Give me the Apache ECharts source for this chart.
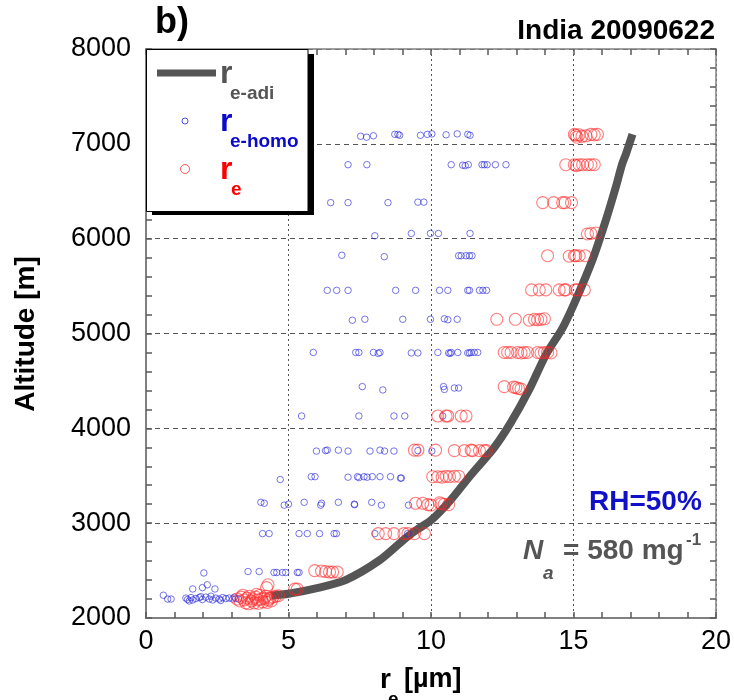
<!DOCTYPE html>
<html>
<head>
<meta charset="utf-8">
<script src="https://cdn.jsdelivr.net/npm/echarts@6/dist/echarts.min.js"></script>
<style>
  html, body { margin: 0; padding: 0; background: #fff; }
  #chart { width: 734px; height: 700px; }
</style>
</head>
<body>
<div id="chart"></div>
<script>
// adiabatic effective radius profile [re (um), altitude (m)]
var adiCurve = [
  [4.4, 2235], [5.0, 2255], [6.0, 2315], [7.0, 2400], [8.2, 2610], [9.1, 2840],
  [9.5, 2930], [10.0, 3030], [10.65, 3230], [11.35, 3490], [12.2, 3790], [12.8, 4060],
  [13.45, 4410], [14.03, 4775], [14.62, 5060], [15.09, 5360], [15.67, 5780],
  [16.14, 6200], [16.5, 6560], [16.7, 6780], [16.85, 6900], [17.07, 7100]
];

// homogeneous mixing re
var reHomo = [
  [7.53, 7080], [7.74, 7070], [7.98, 7085], [8.73, 7100], [8.84, 7100], [8.90, 7090],
  [9.63, 7090], [9.87, 7100], [10.03, 7105], [10.53, 7095], [10.92, 7105], [11.29, 7100], [11.37, 7090],
  [7.09, 6780], [7.75, 6780], [10.71, 6780], [11.11, 6775], [11.20, 6770], [11.31, 6780],
  [11.79, 6780], [11.87, 6780], [11.97, 6780], [12.26, 6780], [12.63, 6780],
  [6.48, 6380], [7.09, 6380], [8.49, 6380], [9.54, 6385], [9.75, 6385],
  [8.03, 6030], [9.31, 6055], [9.98, 6055], [10.26, 6055], [11.37, 6055],
  [6.87, 5825], [8.36, 5810], [10.97, 5820], [11.06, 5820], [11.23, 5820], [11.35, 5820], [11.44, 5820],
  [6.36, 5455], [6.69, 5455], [7.09, 5455], [8.76, 5455], [9.46, 5455], [10.30, 5455], [10.59, 5455],
  [11.29, 5455], [11.35, 5455], [11.70, 5455], [11.82, 5455], [11.95, 5455],
  [7.24, 5140], [7.68, 5150], [9.01, 5150], [9.98, 5150], [10.47, 5155], [10.59, 5145], [10.92, 5150],
  [5.87, 4800], [7.36, 4800], [7.47, 4800], [7.98, 4800], [8.15, 4790], [8.21, 4800], [9.31, 4795],
  [9.54, 4795], [10.24, 4800], [10.62, 4795], [10.67, 4790], [10.71, 4800], [10.94, 4800],
  [11.29, 4795], [11.35, 4795], [11.41, 4800], [11.52, 4800], [11.64, 4800],
  [7.59, 4440], [8.31, 4405], [10.44, 4440], [10.47, 4410], [10.82, 4425], [10.97, 4425],
  [5.46, 4130], [7.47, 4130], [8.70, 4130], [9.08, 4130], [10.41, 4130],
  [5.98, 3760], [6.30, 3765], [6.36, 3770], [6.75, 3770], [7.09, 3760], [7.86, 3760],
  [8.21, 3770], [8.37, 3760], [8.70, 3760], [9.54, 3765], [10.03, 3760],
  [4.71, 3460], [5.80, 3490], [5.93, 3490], [7.09, 3485], [7.42, 3490], [7.47, 3480], [7.65, 3490],
  [7.76, 3485], [7.94, 3490], [8.21, 3490], [8.58, 3490], [8.93, 3475], [8.96, 3475],
  [4.03, 3220], [4.15, 3210], [4.85, 3190], [5.00, 3200], [5.55, 3220], [6.16, 3210], [6.13, 3190],
  [6.75, 3220], [7.31, 3200], [7.32, 3195], [7.92, 3220], [8.26, 3190], [9.21, 3190],
  [4.09, 2890], [4.32, 2890], [5.37, 2890], [5.66, 2890], [6.09, 2890], [6.60, 2890], [6.68, 2890],
  [8.03, 2890], [9.18, 2890],
  [3.58, 2490], [3.97, 2490], [4.49, 2480], [4.59, 2480], [4.79, 2480], [4.90, 2480], [5.31, 2480], [5.37, 2480],
  [2.03, 2475], [2.15, 2350], [1.98, 2320], [1.64, 2306], [2.42, 2306],
  [0.61, 2240], [0.76, 2200], [0.88, 2200], [1.40, 2210], [1.46, 2195], [1.58, 2215], [1.64, 2190],
  [1.75, 2205], [1.87, 2215], [1.98, 2195], [2.10, 2220], [2.22, 2200], [2.34, 2190], [2.45, 2210],
  [2.57, 2200], [2.69, 2215], [2.80, 2205], [2.92, 2210], [3.04, 2200], [3.15, 2205], [3.25, 2200],
  [1.52, 2180], [1.92, 2225], [2.28, 2230], [2.62, 2185], [3.10, 2220]
];

// observed re
var reObs = [
  [15.03, 7100], [15.08, 7090], [15.12, 7070], [15.20, 7095], [15.30, 7080], [15.44, 7085],
  [15.61, 7100], [15.73, 7095], [15.84, 7100],
  [14.73, 6780], [15.03, 6780], [15.20, 6780], [15.10, 6770], [15.32, 6780], [15.49, 6780], [15.61, 6780], [15.73, 6780],
  [13.92, 6380], [14.30, 6380], [14.62, 6380], [14.70, 6380], [14.93, 6380],
  [15.49, 6050], [15.61, 6055], [15.79, 6060],
  [14.09, 5820], [14.85, 5815], [15.03, 5820], [15.08, 5820], [15.20, 5820], [15.41, 5820],
  [13.53, 5460], [13.80, 5460], [14.03, 5460], [14.50, 5460], [14.68, 5460], [14.73, 5460],
  [15.06, 5460], [15.14, 5460], [15.38, 5460],
  [12.31, 5150], [12.96, 5150], [13.45, 5140], [13.63, 5150], [13.74, 5145], [13.86, 5150], [13.98, 5155],
  [12.57, 4800], [12.69, 4800], [12.81, 4800], [13.04, 4800], [13.16, 4795], [13.27, 4800],
  [13.39, 4800], [13.74, 4800], [13.86, 4795], [13.98, 4800], [14.09, 4800], [14.21, 4795],
  [12.57, 4440], [12.90, 4435], [12.98, 4430], [13.07, 4420], [13.16, 4415],
  [10.24, 4130], [10.53, 4130], [10.59, 4130], [11.06, 4130], [11.23, 4130],
  [9.42, 3770], [9.54, 3770], [10.16, 3770], [10.82, 3765], [11.17, 3765], [11.41, 3770],
  [11.46, 3765], [11.70, 3765], [11.87, 3765], [11.95, 3765],
  [10.06, 3490], [10.24, 3490], [10.39, 3485], [10.53, 3495], [10.65, 3490], [10.82, 3495], [10.97, 3495],
  [9.46, 3210], [9.71, 3210], [9.89, 3195], [10.00, 3190], [10.30, 3215], [10.36, 3205], [10.47, 3200], [10.62, 3195],
  [8.15, 2890], [8.41, 2890], [8.70, 2890], [9.05, 2890], [9.19, 2890], [9.42, 2890], [9.77, 2890],
  [5.92, 2500], [6.16, 2495], [6.30, 2490], [6.44, 2485], [6.55, 2485], [6.71, 2485],
  [4.28, 2350], [4.23, 2320], [5.22, 2305], [5.31, 2305],
  [3.20, 2200], [3.30, 2180], [3.35, 2220], [3.45, 2190], [3.50, 2160], [3.55, 2210], [3.62, 2230],
  [3.70, 2180], [3.75, 2200], [3.80, 2160], [3.85, 2220], [3.92, 2190], [4.00, 2240], [4.05, 2200],
  [4.10, 2170], [4.15, 2210], [4.20, 2230], [4.28, 2190], [4.35, 2210], [4.45, 2220], [4.55, 2230],
  [4.65, 2235], [3.60, 2150], [3.95, 2155], [4.40, 2180], [3.40, 2240], [3.88, 2250], [4.25, 2165]
];

var xTicks = { min: 0, max: 20, step: 5, minorStep: 1 };
var yTicks = { min: 2000, max: 8000, step: 1000, minorStep: 200 };

var FONT = '"Liberation Sans", Arial, sans-serif';
var axisGray = '#808080';
var tickGray = '#5a5a5a';

var chart = echarts.init(document.getElementById('chart'));

// box side: axis line + every small tick, no labels
function tickAxis(t, pos, lineW) {
  return {
    type: 'value', min: t.min, max: t.max, interval: t.minorStep, position: pos,
    axisLine: { show: true, onZero: false, lineStyle: { color: axisGray, width: lineW } },
    axisTick: { show: true, inside: true, length: 6, lineStyle: { color: tickGray, width: 1.5 } },
    axisLabel: { show: false },
    splitLine: { show: false }
  };
}
// labels + grid lines at major steps
function labelAxis(t, pos, dash) {
  return {
    type: 'value', min: t.min, max: t.max, interval: t.step, position: pos,
    axisLine: { show: false, onZero: false }, axisTick: { show: false },
    axisLabel: { show: true, fontSize: 27, color: '#000', fontFamily: FONT,
      margin: (pos === 'left') ? 15 : 10,
      formatter: function (v) { return String(v); } },
    splitLine: { show: true, lineStyle: { color: '#555', type: dash, width: 1 } }
  };
}

chart.setOption({
  animation: false,
  backgroundColor: '#fff',
  grid: { left: 146, right: 17, top: 49, bottom: 82 },
  xAxis: [
    tickAxis(xTicks, 'bottom', 2),
    tickAxis(xTicks, 'top', 1.5),
    labelAxis(xTicks, 'bottom', [2, 3])
  ],
  yAxis: [
    tickAxis(yTicks, 'left', 2),
    tickAxis(yTicks, 'right', 1.5),
    labelAxis(yTicks, 'left', [5, 4])
  ],
  series: [
    {
      name: 're-adi', type: 'line', data: adiCurve, showSymbol: false, symbol: 'none', smooth: 0.25,
      lineStyle: { color: '#555', width: 8 }, z: 2
    },
    {
      name: 're-homo', type: 'scatter', data: reHomo, symbol: 'circle', symbolSize: 6.5,
      itemStyle: { color: 'rgba(0,0,0,0)', borderColor: 'rgba(40,40,220,0.8)', borderWidth: 1 }, z: 3
    },
    {
      name: 're', type: 'scatter', data: reObs, symbol: 'circle', symbolSize: 12,
      itemStyle: { color: 'rgba(0,0,0,0)', borderColor: 'rgba(255,40,40,0.75)', borderWidth: 1.1 }, z: 4
    }
  ],
  graphic: [
    { type: 'text', x: 155, y: 23, z: 10, style: { text: 'b)', font: 'bold 36px ' + FONT, fill: '#000', textAlign: 'left', textVerticalAlign: 'middle' } },
    { type: 'text', x: 715, y: 31, z: 10, style: { text: 'India 20090622', font: 'bold 28px ' + FONT, fill: '#000', textAlign: 'right', textVerticalAlign: 'middle' } },
    { type: 'text', x: 26, y: 334, rotation: Math.PI / 2, z: 10, style: { text: 'Altitude [m]', font: 'bold 28px ' + FONT, fill: '#000', textAlign: 'center', textVerticalAlign: 'middle' } },
    // x axis title
    { type: 'text', x: 380, y: 680, z: 10, style: { text: 'r', font: 'bold 28px ' + FONT, fill: '#000', textAlign: 'left', textVerticalAlign: 'middle' } },
    { type: 'text', x: 388, y: 700, z: 10, style: { text: 'e', font: 'bold 19px ' + FONT, fill: '#000', textAlign: 'left', textVerticalAlign: 'middle' } },
    { type: 'text', x: 404, y: 680, z: 10, style: { text: '[µm]', font: 'bold 27px ' + FONT, fill: '#000', textAlign: 'left', textVerticalAlign: 'middle' } },
    // annotations
    { type: 'text', x: 589, y: 502, z: 10, style: { text: 'RH=50%', font: 'bold 28px ' + FONT, fill: '#1010c8', textAlign: 'left', textVerticalAlign: 'middle' } },
    { type: 'text', x: 523, y: 551, z: 10, style: { text: 'N', font: 'italic bold 28px ' + FONT, fill: '#555', textAlign: 'left', textVerticalAlign: 'middle' } },
    { type: 'text', x: 543, y: 574, z: 10, style: { text: 'a', font: 'italic bold 19px ' + FONT, fill: '#555', textAlign: 'left', textVerticalAlign: 'middle' } },
    { type: 'text', x: 563, y: 551, z: 10, style: { text: '= 580 mg', font: 'bold 28px ' + FONT, fill: '#555', textAlign: 'left', textVerticalAlign: 'middle' } },
    { type: 'text', x: 686, y: 540, z: 10, style: { text: '-1', font: 'bold 17px ' + FONT, fill: '#555', textAlign: 'left', textVerticalAlign: 'middle' } },
    // legend box
    { type: 'rect', z: 20, shape: { x: 152, y: 54, width: 162, height: 161 }, style: { fill: '#000' } },
    { type: 'rect', z: 21, shape: { x: 146.5, y: 49.5, width: 161.5, height: 162 }, style: { fill: '#fff', stroke: '#000', lineWidth: 1 } },
    { type: 'line', z: 22, shape: { x1: 157, y1: 73, x2: 216, y2: 73 }, style: { stroke: '#555', lineWidth: 7 } },
    { type: 'text', x: 220, y: 74, z: 22, style: { text: 'r', font: 'bold 32px ' + FONT, fill: '#555', textAlign: 'left', textVerticalAlign: 'middle' } },
    { type: 'text', x: 230, y: 94, z: 22, style: { text: 'e-adi', font: 'bold 19px ' + FONT, fill: '#555', textAlign: 'left', textVerticalAlign: 'middle' } },
    { type: 'circle', z: 22, shape: { cx: 185, cy: 121, r: 3 }, style: { fill: 'none', stroke: 'rgba(40,40,220,0.8)', lineWidth: 1 } },
    { type: 'text', x: 220, y: 122, z: 22, style: { text: 'r', font: 'bold 32px ' + FONT, fill: '#0a0ac8', textAlign: 'left', textVerticalAlign: 'middle' } },
    { type: 'text', x: 230, y: 142, z: 22, style: { text: 'e-homo', font: 'bold 19px ' + FONT, fill: '#0a0ac8', textAlign: 'left', textVerticalAlign: 'middle' } },
    { type: 'circle', z: 22, shape: { cx: 185, cy: 169, r: 4.5 }, style: { fill: 'none', stroke: 'rgba(255,40,40,0.75)', lineWidth: 1 } },
    { type: 'text', x: 220, y: 170, z: 22, style: { text: 'r', font: 'bold 32px ' + FONT, fill: '#ff0000', textAlign: 'left', textVerticalAlign: 'middle' } },
    { type: 'text', x: 231, y: 190, z: 22, style: { text: 'e', font: 'bold 19px ' + FONT, fill: '#ff0000', textAlign: 'left', textVerticalAlign: 'middle' } }
  ]
});
</script>
</body>
</html>
